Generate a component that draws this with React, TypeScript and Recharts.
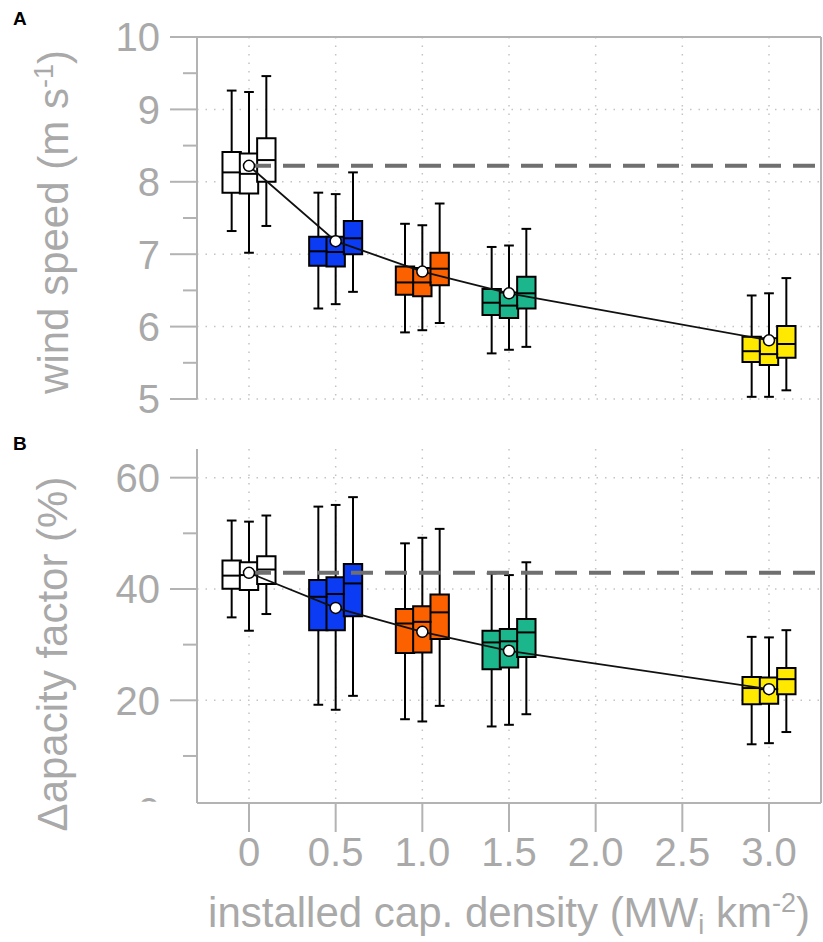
import React from 'react';
import { ComposedChart, Line, XAxis, YAxis, CartesianGrid, ReferenceLine, ReferenceArea } from 'recharts';

// installed capacity density groups and box fill colours
const GROUP_X = [0, 0.5, 1.0, 1.5, 3.0];
const GROUP_COLORS = ['#ffffff', '#0b3cf3', '#fc6100', '#1cb68c', '#ffe900'];
const X_TICKS = [0, 0.5, 1.0, 1.5, 2.0, 2.5, 3.0];

// panel A: wind speed (m/s), three boxes per group
const WS_LOW = [[7.32, 7.02, 7.39], [6.25, 6.31, 6.48], [5.92, 5.95, 6.05], [5.63, 5.68, 5.72], [5.03, 5.03, 5.12]];
const WS_Q1 = [[7.85, 7.84, 8.0], [6.84, 6.83, 7.0], [6.44, 6.42, 6.57], [6.16, 6.12, 6.25], [5.51, 5.47, 5.57]];
const WS_MED = [[8.13, 8.11, 8.3], [7.04, 7.03, 7.22], [6.61, 6.61, 6.8], [6.33, 6.29, 6.46], [5.66, 5.62, 5.76]];
const WS_Q3 = [[8.41, 8.39, 8.6], [7.24, 7.24, 7.46], [6.83, 6.81, 7.02], [6.52, 6.47, 6.69], [5.86, 5.84, 6.01]];
const WS_HIGH = [[9.26, 9.24, 9.46], [7.85, 7.83, 8.13], [7.42, 7.4, 7.7], [7.1, 7.12, 7.35], [6.43, 6.46, 6.67]];
const WS_MEAN = [8.22, 7.18, 6.76, 6.46, 5.81];
const WS_REF = 8.22;
const WS_TICKS = [5, 5.5, 6, 6.5, 7, 7.5, 8, 8.5, 9, 9.5, 10];
const WS_MAJOR = [5, 6, 7, 8, 9, 10];

// panel B: capacity factor (%)
const CF_LOW = [[34.9, 32.5, 35.5], [19.2, 18.3, 20.8], [16.6, 16.2, 19.0], [15.3, 15.6, 17.5], [12.1, 12.3, 14.3]];
const CF_Q1 = [[40.05, 39.8, 40.9], [32.6, 32.6, 35.1], [28.5, 28.6, 31.0], [25.6, 25.9, 27.8], [19.3, 19.4, 21.1]];
const CF_MED = [[42.4, 42.5, 43.5], [38.6, 39.1, 41.0], [33.8, 34.1, 35.8], [30.4, 30.6, 32.2], [22.2, 22.0, 23.8]];
const CF_Q3 = [[45.1, 44.8, 45.9], [41.6, 42.1, 44.5], [36.4, 36.9, 39.0], [32.5, 32.8, 34.6], [24.2, 24.1, 25.8]];
const CF_HIGH = [[52.3, 52.1, 53.2], [54.8, 55.1, 56.5], [48.2, 49.2, 50.8], [42.8, 42.5, 44.8], [31.4, 31.3, 32.6]];
const CF_MEAN = [42.9, 36.6, 32.3, 28.9, 22.0];
const CF_REF = 42.9;
const CF_TICKS = [0, 10, 20, 30, 40, 50, 60];
const CF_MAJOR = [0, 20, 40, 60];

const OFFSETS = [-0.1, 0, 0.1];
const BOX_HALF = 0.053;
const CAP_HALF = 0.028;
const X_DOMAIN: [number, number] = [-0.3, 3.3];

const AXIS = '#b3b3b3';
const TEXT = '#a9a9a9';
const GRID = '#c4c4c4';
const FONT = '"Liberation Sans", Arial, sans-serif';

const YTick = ({ x, y, payload, major, minVal }: any) => {
  const v = payload.value;
  const isMajor = major.includes(v);
  if (v < minVal) {
    // the "0" label of panel B is cut by the frame in the original
    const id = `clip-${v}-${Math.round(y)}`;
    return (
      <g>
        <defs>
          <clipPath id={id}>
            <rect x={x - 120} y={y - 40} width={120} height={30} />
          </clipPath>
        </defs>
        <text x={x - 37} y={y} dy="0.36em" textAnchor="end" fontSize={40} fill={TEXT} clipPath={`url(#${id})`}>{v}</text>
      </g>
    );
  }
  return (
    <g>
      <line x1={x - (isMajor ? 27 : 14)} x2={x} y1={y} y2={y} stroke={AXIS} strokeWidth={2} />
      {isMajor && (
        <text x={x - 37} y={y} dy="0.36em" textAnchor="end" fontSize={40} fill={TEXT}>{v}</text>
      )}
    </g>
  );
};

const boxes = (lo: number[][], q1: number[][], med: number[][], q3: number[][], hi: number[][]) => {
  const whiskers: any[] = [];
  const rects: any[] = [];
  const medians: any[] = [];
  GROUP_X.forEach((gx, g) => {
    OFFSETS.forEach((off, k) => {
      const x = gx + off;
      const key = `${g}-${k}`;
      const ws = { stroke: '#000', strokeWidth: 2 };
      whiskers.push(<ReferenceLine key={`wl${key}`} segment={[{ x, y: lo[g][k] }, { x, y: q1[g][k] }]} {...ws} />);
      whiskers.push(<ReferenceLine key={`wh${key}`} segment={[{ x, y: q3[g][k] }, { x, y: hi[g][k] }]} {...ws} />);
      whiskers.push(<ReferenceLine key={`cl${key}`} segment={[{ x: x - CAP_HALF, y: lo[g][k] }, { x: x + CAP_HALF, y: lo[g][k] }]} {...ws} />);
      whiskers.push(<ReferenceLine key={`ch${key}`} segment={[{ x: x - CAP_HALF, y: hi[g][k] }, { x: x + CAP_HALF, y: hi[g][k] }]} {...ws} />);
      rects.push(
        <ReferenceArea key={`b${key}`} x1={x - BOX_HALF} x2={x + BOX_HALF} y1={q1[g][k]} y2={q3[g][k]}
          fill={GROUP_COLORS[g]} fillOpacity={1} stroke="#000" strokeWidth={2} />
      );
      medians.push(<ReferenceLine key={`m${key}`} segment={[{ x: x - BOX_HALF, y: med[g][k] }, { x: x + BOX_HALF, y: med[g][k] }]} {...ws} />);
    });
  });
  return [...whiskers, ...rects, ...medians];
};

const Sub = ({ children }: any) => <tspan dy={7} fontSize={27}>{children}</tspan>;
const Sup = ({ children }: any) => <tspan dy={-15} fontSize={27}>{children}</tspan>;

const WsTitle = ({ viewBox }: any) => {
  const cy = viewBox.y + viewBox.height / 2 + 4;
  return (
    <text transform={`translate(68, ${cy}) rotate(-90)`} textAnchor="middle" fontSize={42} fill={TEXT}>
      wind speed (m s<Sup>-1</Sup><tspan dy={15}>)</tspan>
    </text>
  );
};

const CfTitle = ({ viewBox }: any) => {
  const cy = viewBox.y + viewBox.height / 2 + 28;
  return (
    <text transform={`translate(67, ${cy}) rotate(-90)`} textAnchor="middle" fontSize={42} fill={TEXT}>
      Δapacity factor (%)
    </text>
  );
};

const XTitle = ({ viewBox }: any) => {
  const cx = viewBox.x + viewBox.width / 2;
  return (
    <text x={cx} y={viewBox.y + 124} textAnchor="middle" fontSize={42} fill={TEXT}>
      installed cap. density (MW<Sub>i</Sub><tspan dy={-7}> km</tspan><Sup>-2</Sup><tspan dy={15}>)</tspan>
    </text>
  );
};

const dotStyle = { r: 5.5, fill: '#fff', stroke: '#000', strokeWidth: 1.5 };

export default function App() {
  const wsData = GROUP_X.map((x, i) => ({ x, mean: WS_MEAN[i] }));
  const cfData = GROUP_X.map((x, i) => ({ x, mean: CF_MEAN[i] }));
  return (
    <div style={{ position: 'absolute', left: 0, top: 0, width: 823, height: 942, background: '#fff', fontFamily: FONT }}>
      <div style={{ position: 'absolute', left: 13, top: 9, fontSize: 19, lineHeight: '19px', fontWeight: 700, color: '#000' }}>A</div>
      <div style={{ position: 'absolute', left: 13, top: 434, fontSize: 19, lineHeight: '19px', fontWeight: 700, color: '#000' }}>B</div>

      <div style={{ position: 'absolute', left: 0, top: 0 }}>
        <ComposedChart width={823} height={420} data={wsData} margin={{ top: 37, right: 2, bottom: 21, left: 0 }}>
          <CartesianGrid horizontalValues={[5, 6, 7, 8, 9]} verticalValues={X_TICKS} stroke={GRID} strokeWidth={1.5} strokeDasharray="1.5 7" />
          <XAxis type="number" dataKey="x" domain={X_DOMAIN} ticks={X_TICKS} hide />
          <YAxis type="number" domain={[5, 10]} ticks={WS_TICKS} interval={0} width={197}
            axisLine={{ stroke: AXIS, strokeWidth: 2 }} tickLine={false} tickSize={0} tickMargin={0}
            tick={<YTick major={WS_MAJOR} minVal={5} />} label={{ content: <WsTitle /> }} />
          {boxes(WS_LOW, WS_Q1, WS_MED, WS_Q3, WS_HIGH)}
          <ReferenceLine y={10} stroke={AXIS} strokeWidth={2} />
          <ReferenceLine segment={[{ x: 0, y: WS_REF }, { x: X_DOMAIN[1], y: WS_REF }]} stroke="#6f6f6f" strokeWidth={4} strokeDasharray="22 12" />
          <Line type="linear" dataKey="mean" stroke="#111" strokeWidth={1.8} dot={dotStyle} isAnimationActive={false} />
        </ComposedChart>
      </div>

      <div style={{ position: 'absolute', left: 0, top: 420 }}>
        <ComposedChart width={823} height={522} data={cfData} margin={{ top: 29, right: 2, bottom: 0, left: 0 }}>
          <CartesianGrid horizontalValues={[20, 40, 60]} verticalValues={X_TICKS} stroke={GRID} strokeWidth={1.5} strokeDasharray="1.5 7" />
          <XAxis type="number" dataKey="x" domain={X_DOMAIN} ticks={X_TICKS} interval={0} height={139}
            axisLine={{ stroke: AXIS, strokeWidth: 2 }} tickLine={{ stroke: AXIS, strokeWidth: 2 }} tickSize={29} tickMargin={6}
            tick={{ fill: TEXT, fontSize: 40 }} tickFormatter={(v: number) => (v === 0 ? '0' : v.toFixed(1))}
            label={{ content: <XTitle /> }} />
          <YAxis type="number" domain={[1.55, 65.15]} allowDataOverflow ticks={CF_TICKS} interval={0} width={197}
            axisLine={{ stroke: AXIS, strokeWidth: 2 }} tickLine={false} tickSize={0} tickMargin={0}
            tick={<YTick major={CF_MAJOR} minVal={1.55} />} label={{ content: <CfTitle /> }} />
          {boxes(CF_LOW, CF_Q1, CF_MED, CF_Q3, CF_HIGH)}
          <ReferenceLine segment={[{ x: 0, y: CF_REF }, { x: X_DOMAIN[1], y: CF_REF }]} stroke="#6f6f6f" strokeWidth={4} strokeDasharray="22 12" />
          <Line type="linear" dataKey="mean" stroke="#111" strokeWidth={1.8} dot={dotStyle} isAnimationActive={false} />
        </ComposedChart>
      </div>

      <div style={{ position: 'absolute', left: 820, top: 37, width: 2, height: 766, background: AXIS }} />
    </div>
  );
}
